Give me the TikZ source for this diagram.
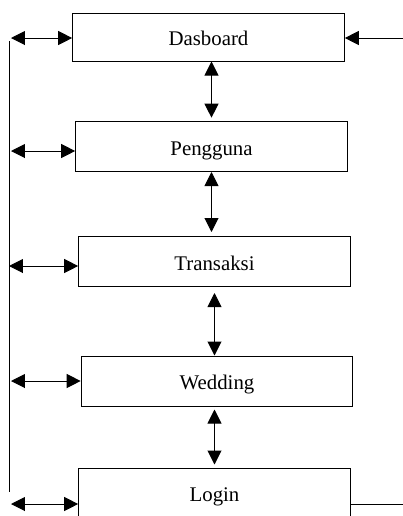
\documentclass[tikz,border=0pt]{standalone}
\usepackage{fontspec}
\setmainfont{Liberation Serif}
\usetikzlibrary{arrows.meta, calc}

\tikzset{
  menu/.style = {draw, line width=0.6pt, minimum width=163pt, minimum height=30pt,
    inner sep=0pt, text height=10.2pt, text depth=0pt, font=\fontsize{12.5}{15}\selectfont},
  dblarrow/.style = {line width=0.6pt, {Triangle[length=8.4pt,width=8.4pt]}-{Triangle[length=8.4pt,width=8.4pt]}},
  inarrow/.style = {line width=0.6pt, -{Triangle[length=8.4pt,width=8.4pt]}}
}

\begin{document}
\begin{tikzpicture}[x=0.6pt, y=-0.6pt]
\useasboundingbox (0,0) rectangle (403,516);
\clip (0,0) rectangle (403,516);

% menu boxes
\node[menu, minimum height=28.8pt] (dash) at (208.5,37) {Dasboard};
\node[menu] (peng) at (211.5,146.5) {Pengguna};
\node[menu] (tran) at (214.5,261.5) {Transaksi};
\node[menu] (wed) at (217,381) {Wedding};
\node[menu] (login) at (214.5,493) {Login};

% left bus
\coordinate (bustop) at (10,41);
\coordinate (busbot) at (10,492);
\draw[line width=0.6pt] (bustop) -- (busbot);

\coordinate (b1) at (11,38);
\coordinate (b2) at (11,151);
\coordinate (b3) at (9,266);
\coordinate (b4) at (11,381);
\coordinate (b5) at (11,504);
\draw[dblarrow] (b1) -- (b1 -| dash.west);
\draw[dblarrow] (b2) -- (b2 -| peng.west);
\draw[dblarrow] (b3) -- (b3 -| tran.west);
\draw[dblarrow] (b4) -- (b4 -| wed.west);
\draw[dblarrow] (b5) -- (b5 -| login.west);

% right side
\coordinate (inR) at (403,38);
\coordinate (outR) at (403,504);
\draw[inarrow] (inR) -- (inR -| dash.east);
\draw[line width=0.6pt] (outR -| login.east) -- (outR);

% between boxes
\draw[dblarrow, shorten >=2pt] (peng.north |- dash.south) -- (peng.north);
\draw[dblarrow, shorten >=2.4pt] (peng.south) -- (peng.south |- tran.north);
\draw[dblarrow, shorten <=3.6pt] (tran.south) -- (tran.south |- wed.north);
\draw[dblarrow, shorten <=1.8pt, shorten >=1.8pt] (login.north |- wed.south) -- (login.north);
\end{tikzpicture}
\end{document}
